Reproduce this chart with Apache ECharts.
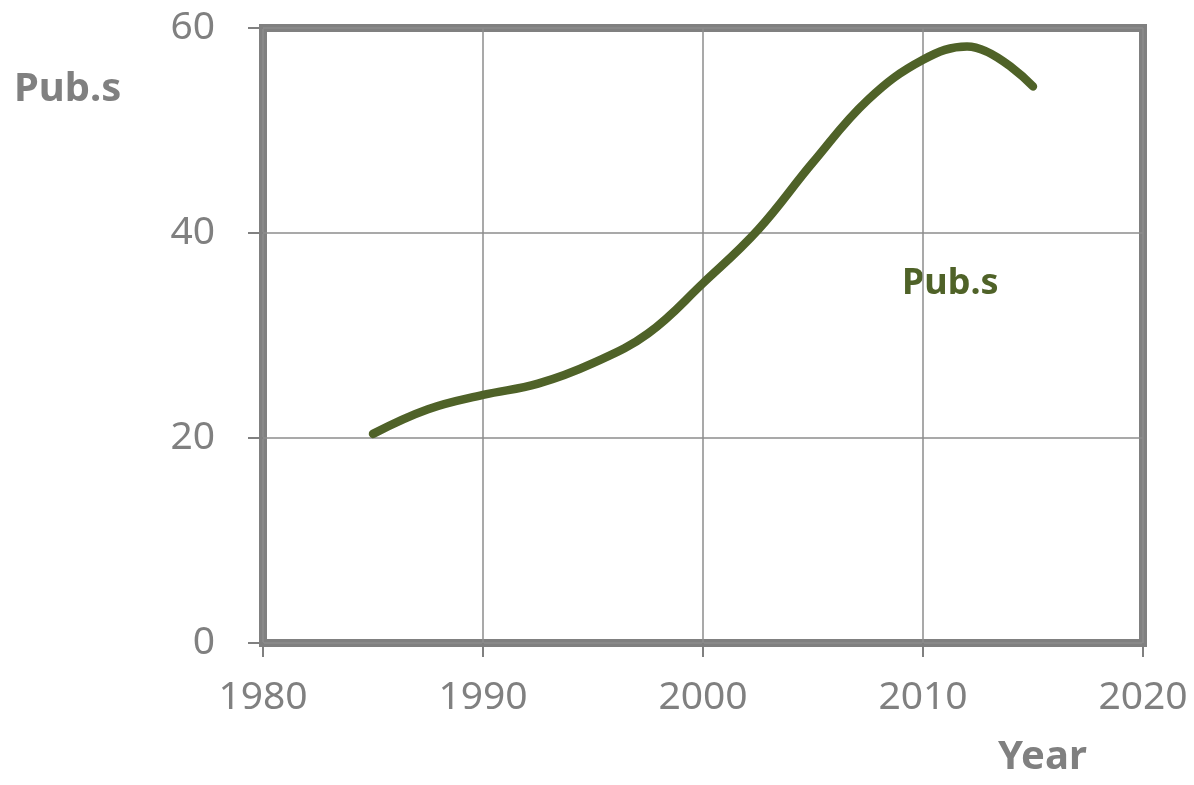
<!DOCTYPE html>
<html>
<head>
<meta charset="utf-8">
<script src="https://cdn.jsdelivr.net/npm/echarts@6/dist/echarts.min.js"></script>
<style>
  html, body { margin: 0; padding: 0; background: #fff; }
  #chart { width: 1194px; height: 785px; }
</style>
</head>
<body>
<div id="chart"></div>
<script>
// values
const years = [1985, 1987.5, 1990, 1992.5, 1995, 1997.5, 2000, 2002.5, 2005, 2007.5, 2010, 2012, 2015];
const pubs = [20.4, 22.8, 24.2, 25.3, 27.3, 30.2, 35.1, 40.3, 46.9, 53.0, 56.9, 58.2, 54.3];

const yTitle = 'Pub.s';
const xTitle = 'Year';
const seriesLabel = 'Pub.s';

const GREY = '#808080';
const GREEN = '#4f6228';
const FONT = "'Noto Sans', sans-serif";

const chart = echarts.init(document.getElementById('chart'));

chart.setOption({
  animation: false,
  textStyle: { fontFamily: FONT },
  grid: {
    left: 263, right: 51, top: 28, bottom: 142,
    show: true, borderColor: GREY, borderWidth: 8, backgroundColor: 'transparent'
  },
  xAxis: {
    type: 'value', min: 1980, max: 2020, interval: 10,
    axisLine: { show: false },
    axisTick: { show: true, length: 14, lineStyle: { color: GREY, width: 2 } },
    axisLabel: { color: GREY, fontSize: 39, margin: 35, fontFamily: FONT, formatter: v => String(v) },
    splitLine: { show: true, lineStyle: { color: '#8c8c8c', width: 1.5 } }
  },
  yAxis: {
    type: 'value', min: 0, max: 60, interval: 20,
    axisLine: { show: false },
    axisTick: { show: true, length: 15, lineStyle: { color: GREY, width: 2 } },
    axisLabel: { color: GREY, fontSize: 39, margin: 48, fontFamily: FONT },
    splitLine: { show: true, lineStyle: { color: '#8c8c8c', width: 1.5 } }
  },
  graphic: [
    { type: 'text', left: 14, top: 70, style: { text: yTitle, fill: GREY, font: 'bold 40px ' + FONT } },
    { type: 'text', left: 998, top: 738, style: { text: xTitle, fill: GREY, font: 'bold 40px ' + FONT } },
    { type: 'text', left: 902, top: 266, style: { text: seriesLabel, fill: GREEN, font: 'bold 36px ' + FONT } }
  ],
  series: [{
    name: seriesLabel,
    type: 'line',
    data: years.map((y, i) => [y, pubs[i]]),
    smooth: 0.4,
    showSymbol: false,
    lineStyle: { color: GREEN, width: 8.5, cap: 'round' }
  }]
});
</script>
</body>
</html>
